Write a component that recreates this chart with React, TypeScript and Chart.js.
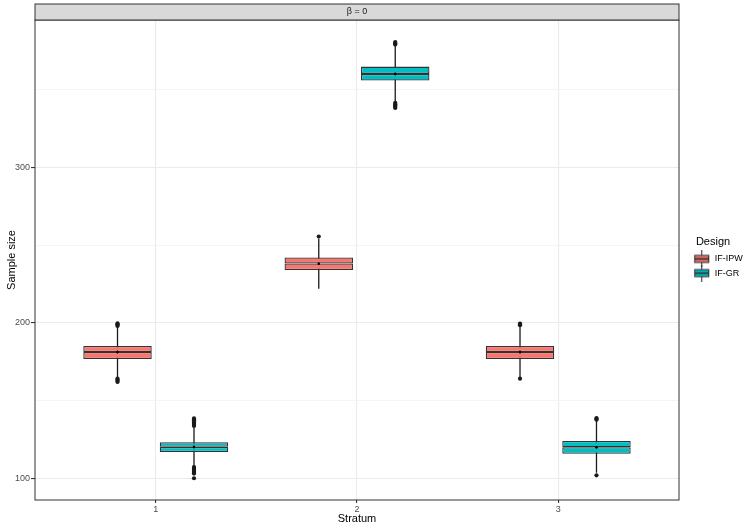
import React, { useEffect, useRef } from "react"
import { Chart, registerables } from "chart.js"

Chart.register(...registerables)

// strata on the x axis
const strata = [1, 2, 3]
const designs = ["IF-IPW", "IF-GR"]
const xTicks = [1, 2, 3]
const yTicks = [100, 150, 200, 250, 300, 350]
const yLabelled = [100, 200, 300]

// IF-IPW boxes (per stratum)
const ipwQ1 = [176.8, 234.1, 176.8]
const ipwMedian = [181.3, 238.2, 181.3]
const ipwQ3 = [185.2, 242.1, 185.2]
const ipwLow = [164.6, 222.0, 164.6]
const ipwHigh = [197.6, 254.0, 197.9]
const ipwMean = [181.2, 238.1, 181.2]
const ipwOutliers = [
	[162.0, 162.7, 163.4, 164.1, 198.0, 198.6, 199.2, 199.7],
	[255.6],
	[164.1, 198.5, 199.0, 199.6],
]

// IF-GR boxes (per stratum)
const grQ1 = [116.9, 356.0, 115.8]
const grMedian = [120.2, 360.3, 120.0]
const grQ3 = [123.2, 365.0, 124.0]
const grLow = [107.6, 342.5, 103.5]
const grHigh = [132.6, 378.5, 136.5]
const grMean = [120.1, 360.2, 120.0]
const grOutliers = [
	[100.0, 103.0, 103.6, 104.2, 104.8, 105.4, 106.0, 106.6, 107.2, 133.7, 134.4, 135.1, 135.8, 136.5, 137.2, 137.9, 138.5],
	[338.4, 339.2, 340.0, 340.8, 341.6, 379.2, 379.7, 380.2, 380.8],
	[101.9, 137.6, 138.2, 138.8],
]

const facetLabel = "β = 0"
const ipwColor = "#F8766D"
const grColor = "#00BFC4"
const lineColor = "#333333"
const CATEGORY_PCT = 0.76
const BAR_PCT = 0.895
const DODGE = CATEGORY_PCT / 4
const FONT = "'Liberation Sans', Arial, Helvetica, sans-serif"

const boxHalf = (lo: number[], hi: number[]) =>
	strata.map((s, i) => ({ x: s, y: [lo[i], hi[i]] }))

const whiskers = (offset: number, low: number[], high: number[]) =>
	strata.flatMap((s, i) => [
		{ x: s + offset, y: low[i] },
		{ x: s + offset, y: high[i] },
		{ x: s + offset, y: null },
	])

const dots = (offset: number, values: number[][]) =>
	strata.flatMap((s, i) => values[i].map((v) => ({ x: s + offset, y: v })))

const means = (offset: number, values: number[]) =>
	strata.map((s, i) => ({ x: s + offset, y: values[i] }))

const isMajor = (c: any) => c.tick && yLabelled.includes(c.tick.value)

// little boxplot glyph used as legend key
function makeKey(fill: string) {
	const c = document.createElement("canvas")
	c.width = 26
	c.height = 17
	const g = c.getContext("2d")!
	const cx = 17.5
	g.strokeStyle = lineColor
	g.lineWidth = 1.1
	g.beginPath()
	g.moveTo(cx, 0)
	g.lineTo(cx, 17)
	g.stroke()
	g.fillStyle = fill
	g.fillRect(10.5, 5, 14, 7)
	g.strokeRect(10.5, 5, 14, 7)
	g.lineWidth = 1.8
	g.beginPath()
	g.moveTo(10.5, 8.5)
	g.lineTo(24.5, 8.5)
	g.stroke()
	return c
}

// panel border + facet strip
const panelDecor = {
	id: "panelDecor",
	afterDraw(chart: Chart) {
		const { ctx, chartArea: a } = chart
		ctx.save()
		ctx.strokeStyle = lineColor
		ctx.lineWidth = 1
		ctx.strokeRect(a.left, a.top, a.right - a.left, a.bottom - a.top)
		ctx.fillStyle = "#d9d9d9"
		ctx.fillRect(a.left, a.top - 16, a.right - a.left, 16)
		ctx.strokeRect(a.left, a.top - 16, a.right - a.left, 16)
		ctx.fillStyle = "#1a1a1a"
		ctx.font = `9px ${FONT}`
		ctx.textAlign = "center"
		ctx.textBaseline = "middle"
		ctx.fillText(facetLabel, (a.left + a.right) / 2, a.top - 8)
		ctx.restore()
	},
}

export default function App() {
	const chartRef = useRef<HTMLCanvasElement | null>(null)
	const chartInstance = useRef<Chart | null>(null)

	useEffect(() => {
		if (chartInstance.current) chartInstance.current.destroy()
		if (!chartRef.current) return
		const ctx = chartRef.current.getContext("2d")
		if (!ctx) return

		Chart.defaults.font.family = FONT
		const keys = [makeKey(ipwColor), makeKey(grColor)]

		const barCommon = {
			type: "bar" as const,
			borderColor: lineColor,
			borderWidth: 1.3,
			borderSkipped: false,
			categoryPercentage: CATEGORY_PCT,
			barPercentage: BAR_PCT,
			order: 5,
		}

		chartInstance.current = new Chart(ctx, {
			type: "scatter",
			data: {
				datasets: [
					{ ...barCommon, label: designs[0], stack: "ipw", backgroundColor: ipwColor, data: boxHalf(ipwQ1, ipwMedian) },
					{ ...barCommon, label: designs[0], stack: "ipw", backgroundColor: ipwColor, data: boxHalf(ipwMedian, ipwQ3) },
					{ ...barCommon, label: designs[1], stack: "gr", backgroundColor: grColor, data: boxHalf(grQ1, grMedian) },
					{ ...barCommon, label: designs[1], stack: "gr", backgroundColor: grColor, data: boxHalf(grMedian, grQ3) },
					{ type: "line", label: "w1", data: whiskers(-DODGE, ipwLow, ipwHigh), borderColor: "#1a1a1a", borderWidth: 1.3, pointRadius: 0, spanGaps: false, order: 10 },
					{ type: "line", label: "w2", data: whiskers(DODGE, grLow, grHigh), borderColor: "#1a1a1a", borderWidth: 1.3, pointRadius: 0, spanGaps: false, order: 10 },
					{ type: "scatter", label: "o1", data: dots(-DODGE, ipwOutliers), backgroundColor: "#1a1a1a", borderWidth: 0, pointRadius: 2.1, order: 0 },
					{ type: "scatter", label: "o2", data: dots(DODGE, grOutliers), backgroundColor: "#1a1a1a", borderWidth: 0, pointRadius: 2.1, order: 0 },
					{ type: "scatter", label: "m1", data: means(-DODGE, ipwMean), backgroundColor: "#000000", borderWidth: 0, pointRadius: 1.3, order: 0 },
					{ type: "scatter", label: "m2", data: means(DODGE, grMean), backgroundColor: "#000000", borderWidth: 0, pointRadius: 1.3, order: 0 },
				] as any,
			},
			options: {
				animation: false,
				responsive: true,
				maintainAspectRatio: false,
				events: [],
				layout: { padding: { top: 20, left: 0, right: 0, bottom: 0 } },
				plugins: {
					tooltip: { enabled: false },
					legend: {
						position: "right",
						align: "start",
						maxWidth: 68,
						title: {
							display: true,
							text: "Design",
							position: "center",
							color: "#000000",
							font: { size: 11 },
							padding: { top: 216, bottom: 0 },
						},
						labels: {
							usePointStyle: true,
							pointStyleWidth: 26,
							padding: 5.2,
							color: "#1a1a1a",
							font: { size: 9 },
							generateLabels: () =>
								designs.map((d, i) => ({
									text: d,
									pointStyle: keys[i],
									fillStyle: i === 0 ? ipwColor : grColor,
									strokeStyle: lineColor,
									lineWidth: 0,
									hidden: false,
									datasetIndex: i * 2,
								})),
						},
					},
				},
				scales: {
					x: {
						type: "linear",
						min: 0.4,
						max: 3.6,
						bounds: "data",
						offset: false,
						afterFit: (s: any) => {
							s.height = 29
						},
						afterBuildTicks: (s: any) => {
							s.ticks = xTicks.map((v) => ({ value: v }))
						},
						ticks: {
							color: "#4d4d4d",
							font: { size: 9 },
							padding: 1,
							maxRotation: 0,
							autoSkip: false,
						},
						grid: {
							offset: false,
							color: "#ebebeb",
							lineWidth: 1.1,
							tickColor: lineColor,
							tickLength: 3,
						},
						border: { display: false },
						title: {
							display: true,
							text: "Stratum",
							color: "#000000",
							font: { size: 11 },
							padding: { top: 0, bottom: 3 },
						},
					},
					y: {
						type: "linear",
						min: 86,
						max: 395,
						bounds: "data",
						stacked: false,
						afterFit: (s: any) => {
							s.width = 35
						},
						afterBuildTicks: (s: any) => {
							s.ticks = yTicks.map((v) => ({ value: v }))
						},
						ticks: {
							color: "#4d4d4d",
							font: { size: 9 },
							padding: 1,
							autoSkip: false,
							callback: (v: any) => (yLabelled.includes(Number(v)) ? String(v) : ""),
						},
						grid: {
							color: (c: any) => (isMajor(c) ? "#ebebeb" : "#f3f3f3"),
							lineWidth: (c: any) => (isMajor(c) ? 1.1 : 0.8),
							tickColor: (c: any) => (isMajor(c) ? lineColor : "rgba(0,0,0,0)"),
							tickLength: 4,
						},
						border: { display: false },
						title: {
							display: true,
							text: "Sample size",
							color: "#000000",
							font: { size: 11 },
							padding: { top: 5.4, bottom: 0 },
						},
					},
				},
			} as any,
			plugins: [panelDecor],
		})

		return () => {
			if (chartInstance.current) {
				chartInstance.current.destroy()
				chartInstance.current = null
			}
		}
	}, [])

	return (
		<div style={{ position: "absolute", left: 0, top: 0, width: 747, height: 529, background: "#ffffff" }}>
			<canvas ref={chartRef}></canvas>
		</div>
	)
}
